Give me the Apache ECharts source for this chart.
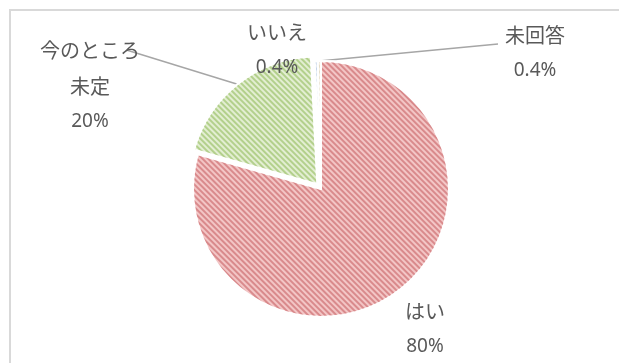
<!DOCTYPE html>
<html>
<head>
<meta charset="utf-8">
<script src="https://cdn.jsdelivr.net/npm/echarts@6/dist/echarts.min.js"></script>
<style>
  html, body { margin: 0; padding: 0; background: #fff; }
  #chart { width: 619px; height: 363px; }
</style>
</head>
<body>
<div id="chart"></div>
<script>
// Survey answers (percent)
const categories = ['はい', '今のところ\n未定', 'いいえ', '未回答'];
const values = [80, 20, 0.4, 0.4];

// Slice fills: base colour and stripe colour
const baseColors = ['#f3c6c6', '#e3eed2', '#dfe8f3', '#f3ede0'];
const stripeColors = ['#d98a8c', '#b3d08c', '#c5d5ea', '#e5dcc6'];

// Where each label sits and where its leader line ends
const labelSpots = [
  { x: 425, y: 329, end: null },
  { x: 90, y: 86, end: [131, 55] },
  { x: 277, y: 50, end: null },
  { x: 535, y: 53, end: [498, 44] }
];
const pulledOut = 1; // slice drawn slightly apart from the rest

const chart = echarts.init(document.getElementById('chart'), null, { renderer: 'canvas' });

const data = categories.map((name, i) => ({
  name: name,
  value: values[i],
  selected: i === pulledOut,
  itemStyle: {
    color: baseColors[i],
    decal: {
      symbol: 'rect',
      symbolSize: 1,
      dashArrayX: [1, 0],
      dashArrayY: [2, 2],
      rotation: Math.PI / 4,
      color: stripeColors[i]
    }
  },
  labelLine: { show: labelSpots[i].end !== null }
}));

chart.setOption({
  animation: false,
  backgroundColor: '#ffffff',
  graphic: [{
    type: 'rect',
    shape: { x: 10, y: 10, width: 700, height: 500 },
    style: { fill: 'none', stroke: '#d9d9d9', lineWidth: 2 },
    silent: true
  }],
  series: [{
    type: 'pie',
    center: [321, 189],
    radius: 128,
    startAngle: 90,
    clockwise: true,
    selectedMode: 'multiple',
    selectedOffset: 6,
    avoidLabelOverlap: false,
    itemStyle: { borderColor: '#ffffff', borderWidth: 2 },
    emphasis: { disabled: true },
    label: {
      show: true,
      position: 'outside',
      formatter: function (p) { return '{n|' + p.name.split('\n').join('}\n{n|') + '}\n{v|' + p.value + '%}'; },
      fontFamily: '"Noto Sans CJK JP", "Noto Sans", sans-serif',
      color: '#595959',
      align: 'center',
      rich: {
        n: { fontSize: 20, lineHeight: 36, color: '#595959', fontFamily: '"Noto Sans CJK JP", sans-serif' },
        v: { fontSize: 19, lineHeight: 36, color: '#595959', fontFamily: '"Noto Sans", sans-serif' }
      }
    },
    labelLine: {
      show: true,
      length: 10,
      length2: 10,
      lineStyle: { color: '#a6a6a6', width: 1.5 }
    },
    labelLayout: function (params) {
      const spot = labelSpots[params.dataIndex];
      const out = { x: spot.x, y: spot.y, align: 'center', verticalAlign: 'middle' };
      if (spot.end && params.labelLinePoints) {
        const start = params.labelLinePoints[0];
        out.labelLinePoints = [start, spot.end, spot.end];
      }
      return out;
    },
    data: data
  }]
});

// The pulled-out slice keeps its label in the "select" state; pin it to the same spot.
function pinSelectedLabel() {
  const seriesData = chart.getModel().getSeriesByIndex(0).getData();
  const sector = seriesData.getItemGraphicEl(pulledOut);
  const label = sector && sector.getTextContent();
  if (!label) return;
  const spot = labelSpots[pulledOut];
  label.x = spot.x;
  label.y = spot.y;
  if (label.states && label.states.select) {
    label.states.select.x = spot.x;
    label.states.select.y = spot.y;
  }
  label.markRedraw();
  chart.getZr().refresh();
}
pinSelectedLabel();
chart.on('finished', pinSelectedLabel);
</script>
</body>
</html>
